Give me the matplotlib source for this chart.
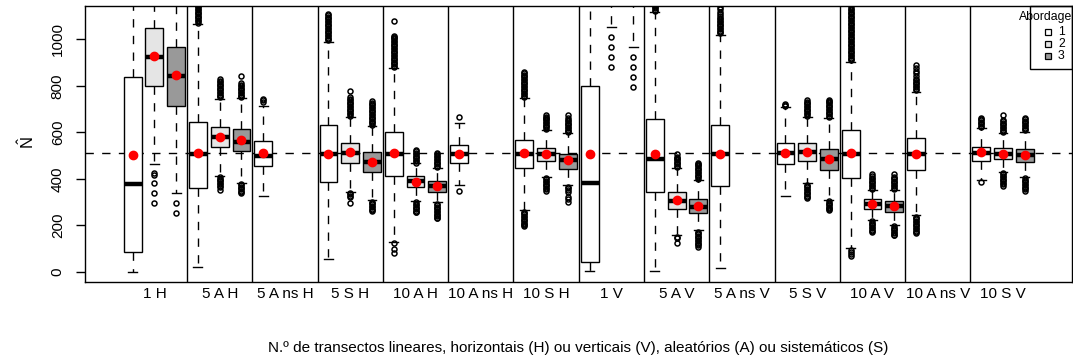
import matplotlib
matplotlib.use("Agg")
import matplotlib.pyplot as plt
from matplotlib.patches import Rectangle

plt.rcParams["font.family"] = ["Liberation Sans", "DejaVu Sans"]
plt.rcParams["mathtext.fontset"] = "custom"
plt.rcParams["mathtext.rm"] = "Liberation Sans"
plt.rcParams["mathtext.it"] = "Liberation Sans:italic"

# ---------------------------------------------------------------- data
group_labels = ["1 H", "5 A H", "5 A ns H", "5 S H", "10 A H", "10 A ns H", "10 S H",
                "1 V", "5 A V", "5 A ns V", "5 S V", "10 A V", "10 A ns V", "10 S V"]
approaches = ["1", "2", "3"]
approach_fill = ["white", "#e5e5e5", "#999999"]
true_n = 510
y_ticks = [0, 200, 400, 600, 800, 1000]

# Approach 1 (run for every design)
a1_whislo = [0, 19, 326, 53, 129, 373, 265, 3, 3, 17, 326, 100, 244, 395]
a1_q1 = [83, 362, 455, 385, 412, 469, 445, 40, 343, 369, 462, 405, 438, 478]
a1_med = [379, 505, 498, 505, 506, 508, 506, 380, 486, 505, 512, 506, 506, 509]
a1_q3 = [839, 646, 564, 630, 601, 547, 567, 799, 656, 630, 555, 610, 577, 538]
a1_whishi = [1250, 1065, 713, 990, 875, 638, 746, 1250, 1120, 1019, 707, 904, 775, 617]
a1_mean = [502, 509, 509, 508, 509, 505, 509, 505, 508, 506, 511, 509, 506, 514]
a1_fliers = [
    [],
    [1072, 1078, 1084, 1090, 1096, 1102, 1108, 1114, 1120, 1126, 1132, 1138, 1144, 1150, 1160],
    [732, 737, 742],
    [996, 1002, 1008, 1014, 1020, 1026, 1032, 1038, 1044, 1050, 1056, 1062, 1068, 1074,
     1080, 1086, 1092, 1098, 1103, 1108],
    [880, 886, 892, 898, 904, 910, 916, 922, 928, 934, 940, 946, 952, 958, 964, 970, 976,
     982, 988, 994, 1000, 1006, 1012, 1016, 1080, 122, 96, 80],
    [664, 347],
    [752, 758, 764, 770, 776, 782, 788, 794, 800, 806, 812, 818, 824, 830, 836, 842, 848,
     854, 861, 259, 253, 247, 241, 235, 229, 223, 217, 211, 205, 200, 197],
    [],
    [1122, 1128, 1134, 1140, 1146, 1152],
    [1026, 1032, 1038, 1044, 1050, 1056, 1062, 1068, 1074, 1080, 1086, 1092, 1100, 1110,
     1120, 1130, 1141],
    [712, 718, 724],
    [910, 916, 922, 928, 934, 940, 946, 952, 958, 964, 970, 976, 982, 988, 994, 1000, 1006,
     1012, 1018, 1024, 1030, 1036, 1042, 1048, 1054, 1060, 1066, 1072, 1078, 1084, 1090,
     1096, 1102, 1108, 1114, 1120, 1126, 1132, 1140, 94, 86, 76, 66],
    [782, 788, 794, 800, 806, 812, 818, 824, 830, 842, 854, 866, 878, 889,
     237, 231, 225, 219, 213, 207, 201, 195, 189, 183, 177, 171, 165],
    [622, 628, 634, 640, 646, 652, 656, 660, 387],
]

# Approach 2 (None where the design has a single approach)
a2_whislo = [463, 412, None, 344, 304, None, 409, 1054, 158, None, 380, 222, None, 430]
a2_q1 = [799, 538, None, 469, 366, None, 476, 1200, 268, None, 476, 268, None, 483]
a2_med = [925, 581, None, 509, 390, None, 508, 1300, 304, None, 515, 291, None, 508]
a2_q3 = [1050, 623, None, 555, 413, None, 534, 1400, 344, None, 555, 311, None, 534]
a2_whishi = [1250, 745, None, 667, 466, None, 610, 1600, 445, None, 667, 351, None, 595]
a2_mean = [928, 580, None, 516, 387, None, 508, 1300, 308, None, 516, 290, None, 508]
a2_fliers = [
    [297, 337, 380, 418, 423],
    [750, 756, 762, 768, 774, 780, 786, 792, 798, 804, 810, 816, 822, 828,
     407, 401, 395, 389, 383, 377, 371, 366, 351],
    None,
    [672, 678, 684, 690, 696, 702, 708, 714, 720, 726, 732, 738, 744, 753, 778,
     340, 334, 328, 323, 297],
    [470, 476, 482, 488, 494, 500, 506, 512, 518, 524,
     298, 292, 286, 280, 274, 268, 262, 258, 255],
    None,
    [615, 621, 627, 633, 639, 645, 651, 657, 663, 668, 674,
     403, 397, 391, 385, 379, 373, 367, 361, 355, 349],
    [882, 925, 968, 1011],
    [450, 456, 462, 468, 474, 480, 486, 490, 495, 506, 150, 143, 125],
    None,
    [672, 678, 684, 690, 696, 702, 708, 714, 720, 726, 732, 739,
     375, 369, 363, 357, 351, 345, 339, 333, 327, 321, 316],
    [356, 362, 368, 374, 380, 386, 392, 398, 404, 410, 419,
     217, 211, 205, 199, 193, 187, 181, 175, 169],
    None,
    [600, 606, 612, 618, 624, 630, 636, 642, 648, 653, 674,
     425, 419, 413, 407, 401, 395, 389, 383, 377, 370],
]

# Approach 3
a3_whislo = [337, 383, None, 308, 298, None, 373, 968, 179, None, 308, 201, None, 409]
a3_q1 = [713, 521, None, 428, 344, None, 443, 1200, 251, None, 438, 258, None, 473]
a3_med = [842, 560, None, 471, 370, None, 481, 1300, 280, None, 483, 284, None, 502]
a3_q3 = [966, 613, None, 514, 392, None, 506, 1400, 311, None, 529, 306, None, 528]
a3_whishi = [1250, 746, None, 627, 445, None, 595, 1600, 395, None, 660, 351, None, 603]
a3_mean = [845, 567, None, 472, 369, None, 479, 1300, 281, None, 485, 284, None, 504]
a3_fliers = [
    [251, 294],
    [750, 756, 762, 768, 774, 780, 786, 792, 798, 804, 813, 842,
     378, 372, 366, 360, 354, 348, 342, 338],
    None,
    [632, 638, 644, 650, 656, 662, 668, 674, 680, 686, 692, 698, 704, 710, 716, 722, 728, 735,
     302, 296, 290, 284, 278, 272, 267, 263],
    [450, 456, 462, 468, 474, 480, 486, 492, 498, 505, 509,
     292, 286, 280, 274, 268, 262, 256, 250, 244, 238, 233, 230],
    None,
    [600, 606, 612, 618, 624, 630, 636, 642, 648, 655, 660, 674,
     366, 359, 352, 345, 323, 312, 301],
    [796, 839, 882, 925],
    [400, 406, 412, 418, 424, 430, 436, 442, 448, 454, 460, 465, 469,
     173, 167, 161, 155, 149, 143, 137, 131, 125, 119, 113, 108],
    None,
    [665, 671, 677, 683, 689, 695, 701, 707, 713, 719, 725, 731, 736, 739,
     303, 297, 291, 285, 279, 273, 268, 265],
    [356, 362, 368, 374, 380, 386, 392, 398, 404, 409, 420,
     196, 190, 184, 178, 172, 166, 160, 156],
    None,
    [608, 614, 620, 626, 632, 638, 644, 650, 656, 660,
     402, 396, 390, 384, 378, 372, 366, 360, 355, 349],
]

series = [
    (a1_whislo, a1_q1, a1_med, a1_q3, a1_whishi, a1_mean, a1_fliers),
    (a2_whislo, a2_q1, a2_med, a2_q3, a2_whishi, a2_mean, a2_fliers),
    (a3_whislo, a3_q1, a3_med, a3_q3, a3_whishi, a3_mean, a3_fliers),
]

# ---------------------------------------------------------------- figure
W, H = 1073, 363
fig = plt.figure(figsize=(W / 100, H / 100), dpi=100)
ax_l, ax_r, ax_t, ax_b = 85, 1072, 5.7, 281.7
ax = fig.add_axes([ax_l / W, 1 - ax_b / H, (ax_r - ax_l) / W, (ax_b - ax_t) / H])

dash = (0, (6, 6))
n_slots = 3
for k, (wlo, q1, med, q3, whi, mean, fl) in enumerate(series):
    stats, pos = [], []
    for g in range(len(group_labels)):
        if q1[g] is None:
            continue
        stats.append(dict(whislo=wlo[g], q1=q1[g], med=med[g], q3=q3[g],
                          whishi=whi[g], mean=mean[g], fliers=fl[g]))
        pos.append(n_slots * g + k + 1)
    ax.bxp(stats, positions=pos, widths=0.82, capwidths=0.41,
           patch_artist=True, showmeans=True,
           boxprops=dict(facecolor=approach_fill[k], edgecolor="black", linewidth=1.0),
           medianprops=dict(color="black", linewidth=3.2, solid_capstyle="butt", zorder=3),
           whiskerprops=dict(color="black", linewidth=1.0, linestyle=dash),
           capprops=dict(color="black", linewidth=1.0),
           flierprops=dict(marker="o", markerfacecolor="none", markeredgecolor="black",
                           markersize=3.6, markeredgewidth=1.1, zorder=3),
           meanprops=dict(marker="o", markerfacecolor="red", markeredgecolor="red",
                          markersize=6, zorder=4),
           manage_ticks=False)

# reference value of the population size
ax.axhline(true_n, color="black", linewidth=1.0, linestyle=dash, zorder=0.5)

# separators between designs
for g in range(1, len(group_labels)):
    ax.axvline(n_slots * g + 0.5, color="black", linewidth=1.0, zorder=2.5)

ax.set_xlim(-1.19, 44.17)
ax.set_ylim(-43, 1145)

ax.set_xticks([n_slots * g + 2 for g in range(len(group_labels))])
ax.set_xticklabels(group_labels, fontsize=11)
ax.tick_params(axis="x", length=0, pad=3.5)
ax.set_yticks(y_ticks)
ax.set_yticklabels([str(v) for v in y_ticks], fontsize=11, rotation=90, va="center")
ax.tick_params(axis="y", length=6.5, width=1.0, pad=8)
for s in ax.spines.values():
    s.set_linewidth(1.0)

fig.text(27 / W, 1 - 143 / H, r"$\hat{\mathrm{N}}$", rotation=90, fontsize=12,
         ha="center", va="center")
fig.text((ax_l + ax_r) / 2 / W, 1 - 348 / H,
         "N.º de transectos lineares, horizontais (H) ou verticais (V), "
         "aleatórios (A) ou sistemáticos (S)",
         fontsize=11, ha="center", va="center")

# legend box
fig.patches.append(Rectangle((1030 / W, 1 - 69 / H), (ax_r - 1030) / W, (69 - ax_t) / H,
                             transform=fig.transFigure, fill=False,
                             edgecolor="black", linewidth=1.0))
fig.text(1072 / W, 1 - 17 / H, "Abordage", fontsize=8.8, ha="right", va="center")
for i, lab in enumerate(approaches):
    yy = 1 - (32.3 + 11.8 * i) / H
    fig.lines.append(plt.Line2D([1047.7 / W], [yy], transform=fig.transFigure,
                                marker="s", markersize=4.6, markerfacecolor=approach_fill[i],
                                markeredgecolor="black", markeredgewidth=0.9,
                                linestyle="none"))
    fig.text(1058 / W, yy, lab, fontsize=8.8, ha="left", va="center")

fig.savefig("out.png", dpi=100)
